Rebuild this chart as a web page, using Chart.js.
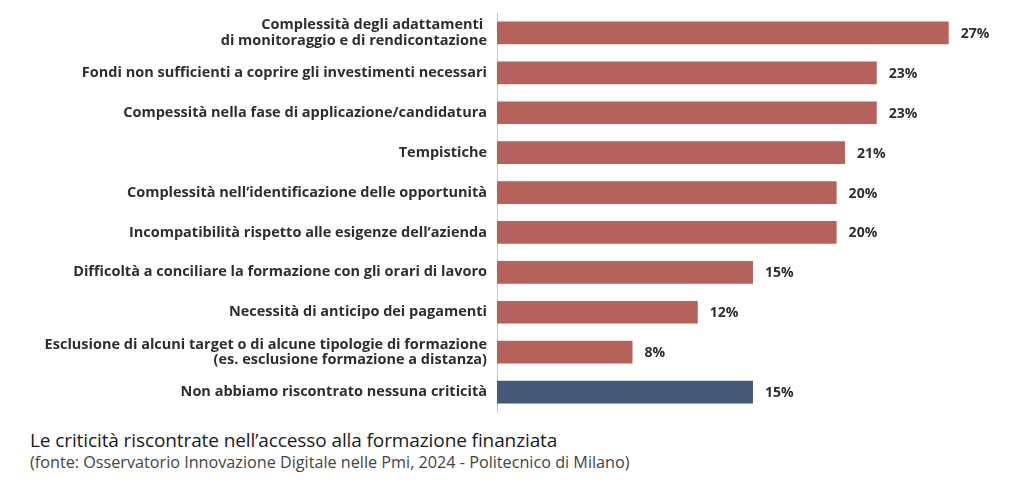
<!DOCTYPE html>
<html>
<head>
<meta charset="utf-8">
<script src="https://cdn.jsdelivr.net/npm/chart.js@4"></script>
<style>
  body { margin: 0; background: #fff; }
  #wrap { position: relative; width: 1024px; height: 494px; }
  #box { position: absolute; left: 0; top: 0; width: 1024px; height: 420px; }
  .cap { position: absolute; left: 30px; font-family: "Open Sans", sans-serif; white-space: nowrap; }
  #title { top: 427px; font-size: 19px; color: #1a1a1a; font-weight: 500; letter-spacing: -0.1px; }
  #source { top: 451px; font-size: 16.2px; color: #444; letter-spacing: 0; }
</style>
</head>
<body>
<div id="wrap">
  <div id="box"><canvas id="myChart"></canvas></div>
  <div class="cap" id="title">Le criticità riscontrate nell’accesso alla formazione finanziata</div>
  <div class="cap" id="source">(fonte: Osservatorio Innovazione Digitale nelle Pmi, 2024 - Politecnico di Milano)</div>
</div>
<script>
const categories = [
  ['Complessità degli adattamenti ', 'di monitoraggio e di rendicontazione'],
  'Fondi non sufficienti a coprire gli investimenti necessari',
  'Compessità nella fase di applicazione/candidatura',
  'Tempistiche',
  'Complessità nell’identificazione delle opportunità',
  'Incompatibilità rispetto alle esigenze dell’azienda',
  'Difficoltà a conciliare la formazione con gli orari di lavoro',
  'Necessità di anticipo dei pagamenti',
  ['Esclusione di alcuni target o di alcune tipologie di formazione', '(es. esclusione formazione a distanza)'],
  'Non abbiamo riscontrato nessuna criticità'
];
const values = [27.0, 22.7, 22.7, 20.8, 20.3, 20.3, 15.3, 12.0, 8.1, 15.3];
const colors = ['#b5635a', '#b5635a', '#b5635a', '#b5635a', '#b5635a', '#b5635a', '#b5635a', '#b5635a', '#b5635a', '#445a78'];

const valueLabels = {
  id: 'valueLabels',
  afterDatasetsDraw(chart) {
    const ctx = chart.ctx;
    const meta = chart.getDatasetMeta(0);
    ctx.save();
    ctx.font = 'bold 14px "Open Sans"';
    ctx.fillStyle = '#2e2e2e';
    ctx.textBaseline = 'middle';
    meta.data.forEach((bar, i) => {
      ctx.fillText(Math.round(values[i]) + '%', bar.x + 12, bar.y + 1);
    });
    ctx.restore();
  }
};

const ctx = document.getElementById('myChart');
new Chart(ctx, {
  type: 'bar',
  data: {
    labels: categories,
    datasets: [{
      data: values,
      backgroundColor: colors,
      categoryPercentage: 1,
      barPercentage: 0.57
    }]
  },
  options: {
    indexAxis: 'y',
    responsive: true,
    maintainAspectRatio: false,
    animation: false,
    layout: { padding: { top: 13, bottom: 8, left: 0, right: 0 } },
    plugins: { legend: { display: false }, tooltip: { enabled: false } },
    scales: {
      x: {
        display: false,
        min: 0,
        max: 31.5
      },
      y: {
        afterFit(scale) {
          scale.width = 497;
          scale.paddingTop = 0;
          scale.paddingBottom = 0;
        },
        grid: { display: false, drawTicks: false },
        border: { display: true, color: '#c8c8c8', width: 1 },
        ticks: {
          padding: 10,
          color: '#2e2e2e',
          font: { family: '"Open Sans"', size: 14.5, weight: 'bold', lineHeight: 1.05 }
        }
      }
    }
  },
  plugins: [valueLabels]
});
</script>
</body>
</html>
